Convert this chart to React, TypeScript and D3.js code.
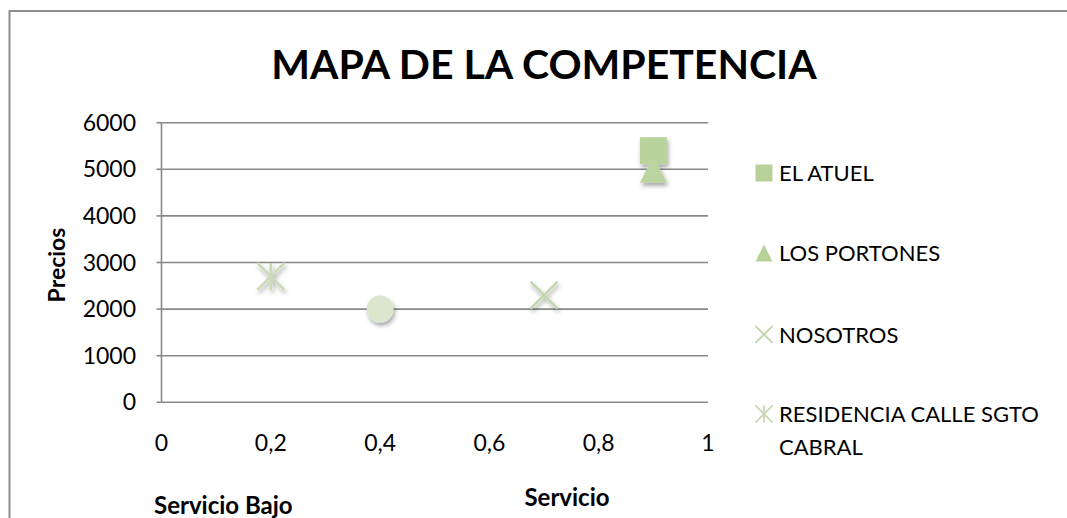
import * as d3 from "d3";

// series in the chart (the circle has no legend entry in the original)
const seriesNames = ["EL ATUEL", "LOS PORTONES", "NOSOTROS", "RESIDENCIA CALLE SGTO CABRAL", "SIN NOMBRE"];
const servicio = [0.9, 0.9, 0.7, 0.2, 0.4];
const precios = [5400, 5000, 2300, 2700, 2000];
const markerTypes = ["square", "triangle", "x", "star", "circle"];
const legendCount = 4;

const xTicks = [0, 0.2, 0.4, 0.6, 0.8, 1];
const yTicks = [0, 1000, 2000, 3000, 4000, 5000, 6000];

const W = 1067;
const H = 518;
const FONT = "Lato, 'Open Sans', sans-serif";

const x = d3.scaleLinear().domain([0, 1]).range([161.5, 708]);
const y = d3.scaleLinear().domain([0, 6000]).range([402.3, 122.7]);

const fmt = (d: number) => String(d).replace(".", ",");

function Marker({ type, cx, cy, s, big }: { type: string; cx: number; cy: number; s: number; big: boolean }) {
  const h = s / 2;
  if (type === "square") {
    return <rect x={cx - h} y={cy - h} width={s} height={s} fill={big ? "#bad39d" : "#b8d199"} />;
  }
  if (type === "triangle") {
    const tri = d3.path();
    tri.moveTo(cx, cy - h);
    tri.lineTo(cx + h, cy + h);
    tri.lineTo(cx - h, cy + h);
    tri.closePath();
    return <path d={tri.toString()} fill={big ? "#bcd4a0" : "#b8d199"} />;
  }
  if (type === "circle") {
    return <circle cx={cx} cy={cy} r={h} fill="#dbe6cf" />;
  }
  if (type === "x") {
    return (
      <g stroke="#c3d7ae" strokeWidth={big ? 2.5 : 1.8}>
        <line x1={cx - h} y1={cy - h} x2={cx + h} y2={cy + h} />
        <line x1={cx - h} y1={cy + h} x2={cx + h} y2={cy - h} />
      </g>
    );
  }
  // star / asterisk
  return (
    <g stroke="#c9dab6" strokeWidth={big ? 2.5 : 1.8}>
      <line x1={cx - h} y1={cy - h} x2={cx + h} y2={cy + h} />
      <line x1={cx - h} y1={cy + h} x2={cx + h} y2={cy - h} />
      <line x1={cx} y1={cy - h} x2={cx} y2={cy + h} />
    </g>
  );
}

export default function App() {
  const legendY = [173, 253, 334.5, 414];

  return (
    <svg
      width={W}
      height={H}
      style={{ position: "absolute", left: 0, top: 0, background: "#fff" }}
      fontFamily={FONT}
    >
      <defs>
        <filter id="shadow" x="-50%" y="-50%" width="200%" height="200%">
          <feDropShadow dx="1.5" dy="3" stdDeviation="2.2" floodColor="#000" floodOpacity="0.35" />
        </filter>
      </defs>

      {/* outer frame */}
      <path d={`M9.5,${H + 5} V11 H${W + 5}`} fill="none" stroke="#8f8f8f" strokeWidth={2} />

      {/* title */}
      <text x={544} y={79} textAnchor="middle" fontSize={41} fontWeight={700} fill="#000">
        MAPA DE LA COMPETENCIA
      </text>

      {/* gridlines */}
      {yTicks.map((t) => (
        <line key={t} x1={x(0)} x2={x(1)} y1={y(t)} y2={y(t)} stroke="#898989" strokeWidth={1.6} />
      ))}
      {/* y axis */}
      <line x1={x(0)} x2={x(0)} y1={y(6000)} y2={y(0)} stroke="#898989" strokeWidth={1.6} />
      {yTicks.map((t) => (
        <line key={"tk" + t} x1={x(0) - 5} x2={x(0)} y1={y(t)} y2={y(t)} stroke="#898989" strokeWidth={1.6} />
      ))}
      {yTicks.map((t) => (
        <text key={"yl" + t} x={136} y={y(t) + 8} textAnchor="end" fontSize={23} fill="#000">
          {t}
        </text>
      ))}
      {xTicks.map((t) => (
        <text key={"xl" + t} x={x(t)} y={451} textAnchor="middle" fontSize={23} fill="#000">
          {fmt(t)}
        </text>
      ))}

      {/* axis titles */}
      <text transform="translate(65,265) rotate(-90)" textAnchor="middle" fontSize={23} fontWeight={700}>
        Precios
      </text>
      <text x={567} y={506} textAnchor="middle" fontSize={24} fontWeight={700}>
        Servicio
      </text>
      <text x={154} y={514} fontSize={24} fontWeight={700}>
        Servicio Bajo
      </text>

      {/* points */}
      <g filter="url(#shadow)">
        {seriesNames.map((name, i) => (
          <Marker key={name} type={markerTypes[i]} cx={x(servicio[i])} cy={y(precios[i])} s={27} big={true} />
        ))}
      </g>

      {/* legend */}
      {seriesNames.slice(0, legendCount).map((name, i) => (
        <g key={"lg" + name}>
          <Marker type={markerTypes[i]} cx={764} cy={legendY[i]} s={17} big={false} />
          {name === "RESIDENCIA CALLE SGTO CABRAL" ? (
            <text x={779} y={legendY[i] + 8} fontSize={22} fill="#000">
              <tspan x={779}>RESIDENCIA CALLE SGTO</tspan>
              <tspan x={779} dy={33}>CABRAL</tspan>
            </text>
          ) : (
            <text x={779} y={legendY[i] + 8} fontSize={22} fill="#000">
              {name}
            </text>
          )}
        </g>
      ))}
    </svg>
  );
}
